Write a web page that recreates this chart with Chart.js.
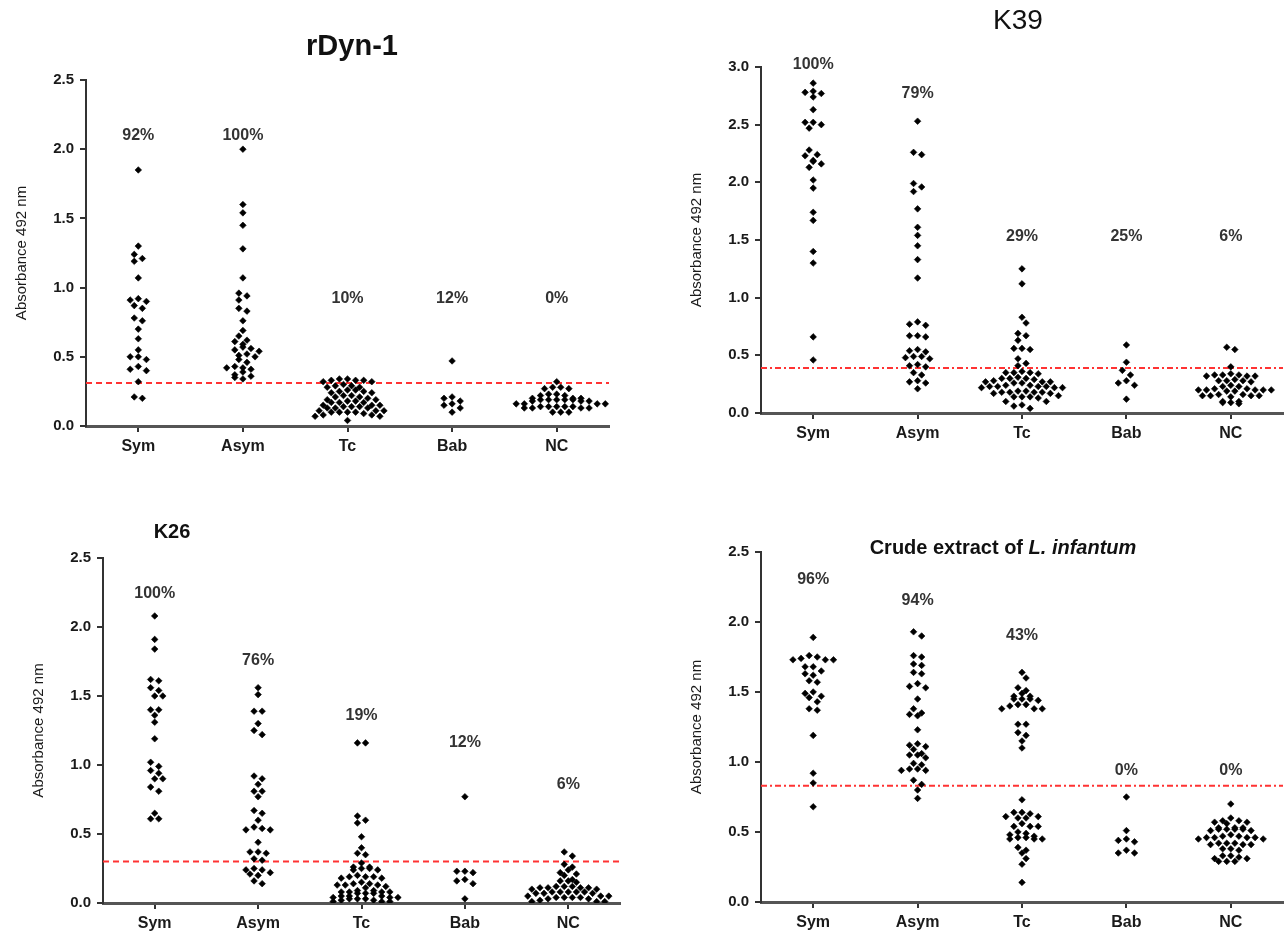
<!DOCTYPE html>
<html>
<head>
<meta charset="utf-8">
<script src="https://cdn.jsdelivr.net/npm/chart.js@4.4.1/dist/chart.umd.min.js"></script>
<style>
html, body { margin: 0; padding: 0; background: #fff; }
#wrap { position: relative; width: 1285px; height: 939px; }
#wrap canvas { position: absolute; left: 0; top: 0; }
</style>
</head>
<body>
<div id="wrap">
    <canvas id="rdyn" width="1285" height="939"></canvas>
    <canvas id="k39" width="1285" height="939"></canvas>
    <canvas id="k26" width="1285" height="939"></canvas>
    <canvas id="crude" width="1285" height="939"></canvas>
</div>
<script>
'use strict';

const groups = ['Sym', 'Asym', 'Tc', 'Bab', 'NC'];

// rDyn-1
const rdynSym = [1.85, 1.30, 1.24, 1.21, 1.19, 1.07, 0.92, 0.91, 0.90, 0.87, 0.85, 0.78, 0.76, 0.70, 0.63, 0.55, 0.50, 0.50, 0.48, 0.43, 0.41, 0.40, 0.32, 0.21, 0.20];
const rdynAsym = [2.00, 1.60, 1.54, 1.45, 1.28, 1.07, 0.96, 0.94, 0.91, 0.85, 0.83, 0.76, 0.69, 0.65, 0.62, 0.61, 0.59, 0.57, 0.56, 0.55, 0.54, 0.52, 0.51, 0.50, 0.48, 0.46, 0.43, 0.42, 0.42, 0.41, 0.39, 0.37, 0.36, 0.35, 0.34];
const rdynTc = [0.34, 0.34, 0.33, 0.33, 0.33, 0.32, 0.32, 0.30, 0.29, 0.29, 0.28, 0.28, 0.26, 0.26, 0.25, 0.25, 0.24, 0.24, 0.22, 0.22, 0.21, 0.21, 0.20, 0.19, 0.19, 0.18, 0.18, 0.17, 0.17, 0.17, 0.15, 0.15, 0.15, 0.14, 0.14, 0.14, 0.13, 0.13, 0.13, 0.11, 0.11, 0.11, 0.10, 0.10, 0.10, 0.10, 0.09, 0.08, 0.08, 0.07, 0.07, 0.04];
const rdynBab = [0.47, 0.21, 0.20, 0.18, 0.16, 0.15, 0.13, 0.10];
const rdynNc = [0.32, 0.28, 0.28, 0.27, 0.27, 0.23, 0.23, 0.22, 0.22, 0.20, 0.20, 0.20, 0.19, 0.19, 0.19, 0.19, 0.19, 0.18, 0.18, 0.18, 0.16, 0.16, 0.16, 0.16, 0.14, 0.14, 0.14, 0.14, 0.14, 0.13, 0.13, 0.13, 0.13, 0.10, 0.10, 0.10];
const rdynCutoff = 0.31;
const rdynPositive = ['92%', '100%', '10%', '12%', '0%'];

// K39
const k39Sym = [2.86, 2.79, 2.78, 2.77, 2.74, 2.63, 2.52, 2.52, 2.50, 2.47, 2.28, 2.24, 2.23, 2.19, 2.18, 2.16, 2.13, 2.02, 1.95, 1.74, 1.67, 1.40, 1.30, 0.66, 0.46];
const k39Asym = [2.53, 2.26, 2.24, 1.99, 1.96, 1.92, 1.77, 1.61, 1.54, 1.45, 1.33, 1.17, 0.79, 0.77, 0.76, 0.67, 0.67, 0.66, 0.55, 0.54, 0.53, 0.49, 0.49, 0.48, 0.47, 0.42, 0.41, 0.40, 0.35, 0.33, 0.28, 0.27, 0.26, 0.21];
const k39Tc = [1.25, 1.12, 0.83, 0.78, 0.69, 0.67, 0.63, 0.56, 0.56, 0.55, 0.47, 0.43, 0.41, 0.36, 0.35, 0.35, 0.35, 0.34, 0.31, 0.30, 0.30, 0.30, 0.29, 0.28, 0.27, 0.27, 0.27, 0.26, 0.26, 0.24, 0.24, 0.23, 0.23, 0.23, 0.23, 0.22, 0.22, 0.22, 0.19, 0.19, 0.18, 0.18, 0.18, 0.18, 0.17, 0.17, 0.15, 0.14, 0.14, 0.14, 0.13, 0.10, 0.10, 0.07, 0.06, 0.04];
const k39Bab = [0.59, 0.44, 0.37, 0.33, 0.28, 0.26, 0.24, 0.12];
const k39Nc = [0.57, 0.55, 0.40, 0.34, 0.33, 0.33, 0.33, 0.32, 0.32, 0.32, 0.29, 0.28, 0.28, 0.28, 0.27, 0.24, 0.23, 0.23, 0.21, 0.21, 0.20, 0.20, 0.20, 0.20, 0.20, 0.19, 0.19, 0.16, 0.16, 0.15, 0.15, 0.15, 0.15, 0.14, 0.10, 0.10, 0.09, 0.09, 0.08];
const k39Cutoff = 0.39;
const k39Positive = ['100%', '79%', '29%', '25%', '6%'];

// K26
const k26Sym = [2.08, 1.91, 1.84, 1.62, 1.61, 1.56, 1.54, 1.50, 1.50, 1.40, 1.40, 1.36, 1.31, 1.19, 1.02, 0.99, 0.96, 0.94, 0.90, 0.90, 0.84, 0.81, 0.65, 0.61, 0.61];
const k26Asym = [1.56, 1.51, 1.39, 1.39, 1.30, 1.25, 1.22, 0.92, 0.90, 0.86, 0.81, 0.81, 0.77, 0.67, 0.65, 0.60, 0.55, 0.54, 0.53, 0.53, 0.44, 0.37, 0.37, 0.36, 0.32, 0.31, 0.25, 0.24, 0.24, 0.22, 0.21, 0.20, 0.16, 0.14];
const k26Tc = [1.16, 1.16, 0.63, 0.60, 0.58, 0.48, 0.40, 0.36, 0.35, 0.29, 0.26, 0.26, 0.25, 0.25, 0.24, 0.24, 0.20, 0.19, 0.19, 0.19, 0.18, 0.18, 0.15, 0.14, 0.14, 0.13, 0.13, 0.13, 0.12, 0.11, 0.09, 0.09, 0.08, 0.08, 0.08, 0.08, 0.07, 0.07, 0.07, 0.05, 0.05, 0.05, 0.04, 0.04, 0.04, 0.03, 0.03, 0.03, 0.02, 0.02, 0.01, 0.01, 0.01];
const k26Bab = [0.77, 0.23, 0.23, 0.22, 0.17, 0.16, 0.14, 0.03];
const k26Nc = [0.37, 0.34, 0.28, 0.26, 0.24, 0.22, 0.21, 0.20, 0.17, 0.16, 0.16, 0.15, 0.12, 0.12, 0.12, 0.11, 0.11, 0.11, 0.11, 0.10, 0.10, 0.08, 0.08, 0.08, 0.08, 0.08, 0.07, 0.07, 0.07, 0.05, 0.05, 0.05, 0.04, 0.04, 0.04, 0.04, 0.03, 0.03, 0.02, 0.01, 0.01, 0.01];
const k26Cutoff = 0.30;
const k26Positive = ['100%', '76%', '19%', '12%', '6%'];

// Crude extract of L. infantum
const crudeSym = [1.89, 1.76, 1.75, 1.74, 1.73, 1.73, 1.73, 1.68, 1.68, 1.65, 1.63, 1.62, 1.58, 1.57, 1.50, 1.49, 1.47, 1.46, 1.43, 1.38, 1.37, 1.19, 0.92, 0.85, 0.68];
const crudeAsym = [1.93, 1.90, 1.76, 1.75, 1.70, 1.69, 1.64, 1.63, 1.56, 1.54, 1.53, 1.45, 1.38, 1.35, 1.34, 1.33, 1.23, 1.13, 1.12, 1.11, 1.09, 1.06, 1.05, 1.05, 1.03, 0.99, 0.98, 0.95, 0.95, 0.94, 0.94, 0.87, 0.84, 0.80, 0.74];
const crudeTc = [1.64, 1.60, 1.53, 1.51, 1.49, 1.47, 1.47, 1.45, 1.45, 1.45, 1.44, 1.41, 1.41, 1.40, 1.38, 1.38, 1.38, 1.27, 1.27, 1.21, 1.19, 1.15, 1.10, 0.73, 0.64, 0.64, 0.63, 0.61, 0.61, 0.60, 0.60, 0.56, 0.54, 0.54, 0.54, 0.50, 0.49, 0.48, 0.47, 0.46, 0.46, 0.45, 0.45, 0.45, 0.39, 0.37, 0.35, 0.31, 0.27, 0.14];
const crudeBab = [0.75, 0.51, 0.45, 0.44, 0.43, 0.37, 0.35, 0.35];
const crudeNc = [0.70, 0.60, 0.58, 0.58, 0.57, 0.57, 0.56, 0.53, 0.53, 0.53, 0.52, 0.52, 0.52, 0.52, 0.51, 0.51, 0.48, 0.47, 0.47, 0.46, 0.46, 0.46, 0.46, 0.45, 0.45, 0.42, 0.42, 0.42, 0.41, 0.41, 0.41, 0.38, 0.38, 0.37, 0.33, 0.33, 0.32, 0.31, 0.31, 0.29, 0.29, 0.29];
const crudeCutoff = 0.83;
const crudePositive = ['96%', '94%', '43%', '0%', '0%'];

const fontFamily = '"Liberation Sans", Arial, Helvetica, sans-serif';
const yAxisWidth = 77;
const xAxisHeight = 34;
// dot layout in pixels: row height for binning, column spacing, overlap distance
const swarmRowPx = 5;
const swarmColPx = 8.1;
const swarmDistPx = 6.5;

const panels = [
    {
        id: 'rdyn', series: [rdynSym, rdynAsym, rdynTc, rdynBab, rdynNc], yMax: 2.5,
        cutoff: rdynCutoff, dash: [6, 4], positive: rdynPositive, positiveAt: [2.10, 2.10, 0.92, 0.92, 0.92],
        area: { left: 86, top: 80, right: 609, bottom: 426 },
        title: [{ text: 'rDyn-1', font: 'bold 29px ' + fontFamily }], titleAt: [352, 47],
    },
    {
        id: 'k39', series: [k39Sym, k39Asym, k39Tc, k39Bab, k39Nc], yMax: 3.0,
        cutoff: k39Cutoff, dash: [6, 3, 2, 3], positive: k39Positive, positiveAt: [3.02, 2.77, 1.53, 1.53, 1.53],
        area: { left: 761, top: 67, right: 1283, bottom: 413 },
        title: [{ text: 'K39', font: '28px ' + fontFamily }], titleAt: [1018, 21],
    },
    {
        id: 'k26', series: [k26Sym, k26Asym, k26Tc, k26Bab, k26Nc], yMax: 2.5,
        cutoff: k26Cutoff, dash: [6, 4], positive: k26Positive, positiveAt: [2.24, 1.76, 1.36, 1.16, 0.86],
        area: { left: 103, top: 558, right: 620, bottom: 903 },
        title: [{ text: 'K26', font: 'bold 20px ' + fontFamily }], titleAt: [172, 532],
    },
    {
        id: 'crude', series: [crudeSym, crudeAsym, crudeTc, crudeBab, crudeNc], yMax: 2.5,
        cutoff: crudeCutoff, dash: [6, 3, 2, 3], positive: crudePositive, positiveAt: [2.30, 2.15, 1.90, 0.94, 0.94],
        area: { left: 761, top: 552, right: 1283, bottom: 902 },
        title: [
            { text: 'Crude extract of ', font: 'bold 20px ' + fontFamily },
            { text: 'L. infantum', font: 'italic bold 20px ' + fontFamily },
        ],
        titleAt: [1003, 548],
    },
];

const panelTextPlugin = {
    id: 'panelText',
    afterDatasetsDraw(chart, args, opts) {
        const ctx = chart.ctx;
        const xs = chart.scales.x;
        const ys = chart.scales.y;
        ctx.save();
        ctx.fillStyle = '#333';
        ctx.textAlign = 'center';
        ctx.textBaseline = 'middle';
        ctx.font = 'bold 16px ' + fontFamily;
        opts.positive.forEach((t, i) => {
            ctx.fillText(t, xs.getPixelForValue(i + 1), ys.getPixelForValue(opts.positiveAt[i]));
        });
        // title, possibly in mixed fonts
        ctx.fillStyle = '#111';
        ctx.textAlign = 'left';
        let total = 0;
        for (const part of opts.title) {
            ctx.font = part.font;
            total += ctx.measureText(part.text).width;
        }
        let x = opts.titleAt[0] - total / 2;
        for (const part of opts.title) {
            ctx.font = part.font;
            ctx.fillText(part.text, x, opts.titleAt[1]);
            x += ctx.measureText(part.text).width;
        }
        ctx.restore();
    },
};

// GraphPad-like column scatter: bin dots into short rows, spread each row on a column grid
function swarm(chart) {
    const xs = chart.scales.x;
    const ys = chart.scales.y;
    const unit = xs.getPixelForValue(2) - xs.getPixelForValue(1);
    for (const ds of chart.data.datasets) {
        if (ds.type === 'line') continue;
        const pts = ds.data.slice().sort((a, b) => b.y - a.y);
        const rows = [];
        let row = null;
        for (const p of pts) {
            const py = ys.getPixelForValue(p.y);
            if (!row || py - row.start > swarmRowPx) {
                row = { start: py, items: [] };
                rows.push(row);
            }
            row.items.push({ p, py });
        }
        const placed = [];
        for (const r of rows) {
            const n = r.items.length;
            const slots = [];
            for (let j = 0; j < n; j++) slots.push((j - (n - 1) / 2) * swarmColPx);
            slots.sort((a, b) => Math.abs(a) - Math.abs(b) || a - b);
            let best = null;
            for (const shift of [0, swarmColPx / 2, -swarmColPx / 2]) {
                let hits = 0;
                r.items.forEach((it, j) => {
                    const px = slots[j] + shift;
                    for (const q of placed) {
                        if ((q.x - px) ** 2 + (q.y - it.py) ** 2 < swarmDistPx ** 2) hits++;
                    }
                });
                if (!best || hits < best.hits) best = { shift, hits };
            }
            r.items.forEach((it, j) => {
                const px = slots[j] + best.shift;
                placed.push({ x: px, y: it.py });
                it.p.x = it.p.base + px / unit;
            });
        }
    }
    chart.update('none');
}

for (const panel of panels) {
    const datasets = panel.series.map((values, i) => ({
        type: 'scatter',
        data: values.map(v => ({ x: i + 1, y: v, base: i + 1 })),
        backgroundColor: '#000',
        borderColor: '#000',
        borderWidth: 0.6,
        pointStyle: 'rectRot',
        pointRadius: 3.3,
        order: 0,
    }));
    datasets.push({
        type: 'line',
        data: [{ x: 0.5, y: panel.cutoff }, { x: 5.5, y: panel.cutoff }],
        borderColor: '#ff3333',
        borderWidth: 2,
        borderDash: panel.dash,
        pointRadius: 0,
        fill: false,
        order: 10,
    });

    const a = panel.area;
    const chart = new Chart(document.getElementById(panel.id), {
        type: 'scatter',
        data: { datasets: datasets },
        plugins: [panelTextPlugin],
        options: {
            responsive: false,
            animation: false,
            events: [],
            layout: {
                autoPadding: false,
                padding: {
                    left: a.left - yAxisWidth,
                    top: a.top,
                    right: 1285 - a.right,
                    bottom: 939 - a.bottom - xAxisHeight,
                },
            },
            scales: {
                x: {
                    type: 'linear',
                    min: 0.5,
                    max: 5.5,
                    afterFit: (s) => { s.height = xAxisHeight; },
                    afterBuildTicks: (s) => { s.ticks = groups.map((g, i) => ({ value: i + 1 })); },
                    ticks: {
                        callback: (v) => groups[Math.round(v) - 1],
                        color: '#1a1a1a',
                        padding: 5,
                        maxRotation: 0,
                        font: { family: fontFamily, size: 16, weight: 'bold' },
                    },
                    grid: { drawOnChartArea: false, tickLength: 6, color: '#333', lineWidth: 2 },
                    border: { display: true, color: '#555', width: 3 },
                },
                y: {
                    type: 'linear',
                    min: 0,
                    max: panel.yMax,
                    afterFit: (s) => { s.width = yAxisWidth; },
                    ticks: {
                        stepSize: 0.5,
                        callback: (v) => v.toFixed(1),
                        color: '#1a1a1a',
                        padding: 6,
                        font: { family: fontFamily, size: 15, weight: 'bold' },
                    },
                    grid: { drawOnChartArea: false, tickLength: 6, color: '#333', lineWidth: 2 },
                    border: { display: true, color: '#333', width: 2 },
                    title: {
                        display: true,
                        text: 'Absorbance 492 nm',
                        color: '#1a1a1a',
                        padding: { top: 4, bottom: 4 },
                        font: { family: fontFamily, size: 15 },
                    },
                },
            },
            plugins: {
                legend: { display: false },
                tooltip: { enabled: false },
                panelText: {
                    positive: panel.positive,
                    positiveAt: panel.positiveAt,
                    title: panel.title,
                    titleAt: panel.titleAt,
                },
            },
        },
    });
    swarm(chart);
}
</script>
</body>
</html>
